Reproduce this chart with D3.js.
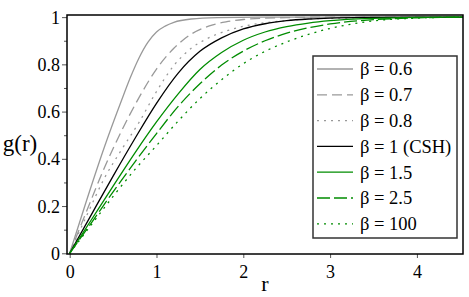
<!DOCTYPE html>
<html>
<head>
<meta charset="utf-8">
<script src="https://cdn.jsdelivr.net/npm/d3@7"></script>
<style>
  body { margin: 0; background: #fff; }
  text { font-family: "Liberation Serif", "Times New Roman", serif; }
</style>
</head>
<body>
<script>
// r positions for each curve
var rA = [0, 0.2, 0.4, 0.6, 0.7, 0.8, 0.9, 1.0, 1.1, 1.2, 1.4, 1.7, 2.2, 4.53];
var g06 = [0, 0.23, 0.45, 0.65, 0.745, 0.828, 0.893, 0.937, 0.962, 0.978, 0.992, 0.998, 1, 1];

var rB = [0, 0.2, 0.4, 0.6, 0.8, 1.0, 1.2, 1.4, 1.6, 1.8, 2.0, 2.5, 3, 4.53];
var g07 = [0, 0.183, 0.362, 0.52, 0.66, 0.78, 0.868, 0.928, 0.962, 0.98, 0.99, 0.998, 1, 1];
var g08 = [0, 0.163, 0.318, 0.44, 0.555, 0.685, 0.795, 0.868, 0.912, 0.941, 0.961, 0.985, 0.995, 1];

var rC = [0, 0.25, 0.5, 0.75, 1.0, 1.25, 1.5, 1.75, 2.0, 2.25, 2.5, 2.75, 3.0, 3.5, 4.0, 4.53];
var g1 = [0, 0.164, 0.327, 0.485, 0.635, 0.763, 0.855, 0.912, 0.95, 0.972, 0.985, 0.992, 0.996, 0.999, 1, 1];
var g15 = [0, 0.142, 0.284, 0.424, 0.556, 0.675, 0.778, 0.85, 0.902, 0.937, 0.96, 0.975, 0.985, 0.995, 0.999, 1];
var g25 = [0, 0.129, 0.26, 0.386, 0.507, 0.622, 0.718, 0.797, 0.856, 0.9, 0.932, 0.955, 0.971, 0.989, 0.997, 1];
var g100 = [0, 0.121, 0.241, 0.354, 0.456, 0.56, 0.655, 0.735, 0.803, 0.855, 0.895, 0.927, 0.952, 0.984, 0.996, 1];

var legendLabels = ["β = 0.6", "β = 0.7", "β = 0.8", "β = 1 (CSH)", "β = 1.5", "β = 2.5", "β = 100"];
var xTicks = [0, 1, 2, 3, 4];
var yTicks = [0, 0.2, 0.4, 0.6, 0.8, 1];
var yMinor = [0.1, 0.3, 0.5, 0.7, 0.9];

var series = [
  { r: rA, g: g06, color: "#999999", dash: null },
  { r: rB, g: g07, color: "#999999", dash: "10,5" },
  { r: rB, g: g08, color: "#999999", dash: "2,5" },
  { r: rC, g: g1, color: "#000000", dash: null },
  { r: rC, g: g15, color: "#008c00", dash: null },
  { r: rC, g: g25, color: "#008c00", dash: "13,4" },
  { r: rC, g: g100, color: "#008c00", dash: "2,5" }
];

var svgWidth = 469;
var svgHeight = 297;

var chartMargin = { top: 15, right: 6, bottom: 43, left: 67 };
var chartWidth = svgWidth - chartMargin.left - chartMargin.right;
var chartHeight = svgHeight - chartMargin.top - chartMargin.bottom;

var svg = d3.select("body")
  .append("svg")
  .attr("width", svgWidth)
  .attr("height", svgHeight);

var chartGroup = svg.append("g")
  .attr("transform", `translate(${chartMargin.left}, ${chartMargin.top})`);

var xScale = d3.scaleLinear()
  .domain([-0.031, 4.531])
  .range([0, chartWidth]);

var yScale = d3.scaleLinear()
  .domain([-0.003, 1.009])
  .range([chartHeight, 0]);

chartGroup.append("clipPath")
  .attr("id", "clip")
  .append("rect")
  .attr("width", chartWidth)
  .attr("height", chartHeight);

// axes
var bottomAxis = d3.axisBottom(xScale).tickValues(xTicks).tickSize(4).tickFormat(d3.format("d"));
var leftAxis = d3.axisLeft(yScale).tickValues(yTicks).tickSize(5).tickFormat(d => d === 0 || d === 1 ? d : d3.format(".1f")(d));
var leftMinor = d3.axisLeft(yScale).tickValues(yMinor).tickSize(3).tickFormat("");

var xAxisG = chartGroup.append("g")
  .attr("transform", `translate(0, ${chartHeight})`)
  .call(bottomAxis);
var yAxisG = chartGroup.append("g").call(leftAxis);
var yMinorG = chartGroup.append("g").call(leftMinor);

[xAxisG, yAxisG, yMinorG].forEach(function(g) {
  g.select(".domain").remove();
  g.selectAll("line").attr("stroke", "#555");
  g.selectAll("text")
    .attr("fill", "#000")
    .style("font-size", "18px")
    .style("font-family", "Liberation Serif");
});
xAxisG.selectAll("text").attr("dy", "0.95em");
yAxisG.selectAll("text").attr("x", -7).attr("dy", "0.34em");

// curves
var line = d3.line()
  .x(d => xScale(d[0]))
  .y(d => yScale(d[1]))
  .curve(d3.curveMonotoneX);

chartGroup.append("g")
  .attr("clip-path", "url(#clip)")
  .selectAll(".curve")
  .data(series)
  .enter()
  .append("path")
  .attr("class", "curve")
  .attr("fill", "none")
  .attr("stroke", d => d.color)
  .attr("stroke-width", 1.3)
  .attr("stroke-dasharray", d => d.dash)
  .attr("d", d => line(d.r.map((r, i) => [r, d.g[i]])));

// frame
chartGroup.append("rect")
  .attr("width", chartWidth)
  .attr("height", chartHeight)
  .attr("fill", "none")
  .attr("stroke", "#000")
  .attr("stroke-width", 1.5);

// axis titles
svg.append("text")
  .attr("x", 20)
  .attr("y", 151)
  .attr("text-anchor", "middle")
  .style("font-size", "23px")
  .text("g(r)");

svg.append("text")
  .attr("x", chartMargin.left + chartWidth / 2)
  .attr("y", 291)
  .attr("text-anchor", "middle")
  .style("font-size", "22px")
  .text("r");

// legend
var legend = svg.append("g").attr("transform", "translate(313, 56)");
legend.append("rect")
  .attr("width", 144)
  .attr("height", 182)
  .attr("fill", "#fff")
  .attr("stroke", "#333")
  .attr("stroke-width", 1.5);

var items = legend.selectAll(".item")
  .data(series)
  .enter()
  .append("g")
  .attr("class", "item")
  .attr("transform", (d, i) => `translate(0, ${13 + i * 25.8})`);

items.append("line")
  .attr("x1", 4)
  .attr("x2", 40)
  .attr("stroke", d => d.color)
  .attr("stroke-width", 1.3)
  .attr("stroke-dasharray", d => d.dash);

items.append("text")
  .attr("x", 47)
  .attr("dy", "0.35em")
  .style("font-size", "18.5px")
  .text((d, i) => legendLabels[i]);
</script>
</body>
</html>
